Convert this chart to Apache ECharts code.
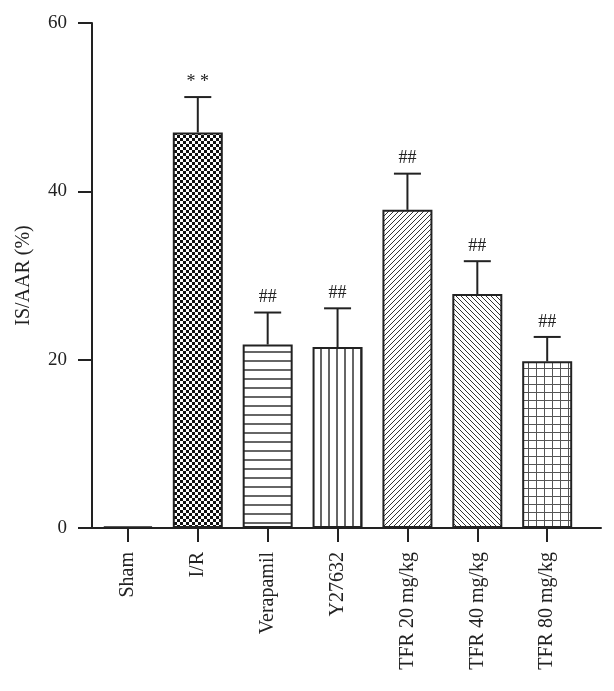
<!DOCTYPE html>
<html>
<head>
<meta charset="utf-8">
<script src="https://cdn.jsdelivr.net/npm/echarts@6/dist/echarts.min.js"></script>
<style>
  html, body { margin: 0; padding: 0; background: #fff; }
  #main { width: 614px; height: 691px; }
</style>
</head>
<body>
<div id="main"></div>
<script>
// groups and values (IS/AAR %)
var groups = ["Sham", "I/R", "Verapamil", "Y27632", "TFR 20 mg/kg", "TFR 40 mg/kg", "TFR 80 mg/kg"];
var means = [0.2, 47.0, 21.8, 21.5, 37.8, 27.8, 19.8];
var sds = [0, 4.2, 3.8, 4.6, 4.3, 3.9, 2.9];
var marks = ["", "* *", "##", "##", "##", "##", "##"];
var yTicks = [0, 20, 40, 60];

var FONT = "'Liberation Serif', 'DejaVu Serif', serif";
var INK = "#222";

// fill patterns drawn on small canvases
function pat(w, h, draw) {
  var c = document.createElement("canvas");
  c.width = w; c.height = h;
  var g = c.getContext("2d");
  g.fillStyle = "#fff";
  g.fillRect(0, 0, w, h);
  g.strokeStyle = "#333";
  g.fillStyle = "#111";
  draw(g);
  return { image: c, repeat: "repeat" };
}
var patterns = [
  "#fff",
  pat(6, 6, function (g) { g.fillRect(0, 0, 3, 3); g.fillRect(3, 3, 3, 3); }),
  pat(10, 9.5, function (g) { g.lineWidth = 1.5; g.beginPath(); g.moveTo(0, 1); g.lineTo(10, 1); g.stroke(); }),
  pat(8, 10, function (g) { g.lineWidth = 1.5; g.beginPath(); g.moveTo(1, 0); g.lineTo(1, 10); g.stroke(); }),
  pat(5, 5, function (g) {
    g.lineWidth = 1; g.beginPath();
    g.moveTo(-1, 6); g.lineTo(6, -1);
    g.moveTo(-1, 1); g.lineTo(1, -1);
    g.moveTo(4, 6); g.lineTo(6, 4);
    g.stroke();
  }),
  pat(5, 5, function (g) {
    g.lineWidth = 1; g.beginPath();
    g.moveTo(-1, -1); g.lineTo(6, 6);
    g.moveTo(4, -1); g.lineTo(6, 1);
    g.moveTo(-1, 4); g.lineTo(1, 6);
    g.stroke();
  }),
  pat(8.3, 8.5, function (g) {
    g.lineWidth = 1; g.strokeStyle = "#555"; g.beginPath();
    g.moveTo(0.5, 0); g.lineTo(0.5, 9);
    g.moveTo(0, 0.5); g.lineTo(9, 0.5);
    g.stroke();
  })
];

var idx = groups.map(function (_, i) { return i; });
var barData = means.map(function (m, i) {
  return { value: [i, m], itemStyle: { color: patterns[i] } };
});
var errData = means.map(function (m, i) { return [i, m, sds[i]]; });

var chart = echarts.init(document.getElementById("main"));
chart.setOption({
  animation: false,
  backgroundColor: "#fff",
  grid: { left: 92, right: 13, top: 23, bottom: 163 },
  xAxis: {
    type: "value",
    min: -0.514,
    max: 6.77,
    splitLine: { show: false },
    axisLine: { onZero: false, lineStyle: { color: INK, width: 2 } },
    axisTick: { customValues: idx, length: 14, lineStyle: { color: INK, width: 2 } },
    axisLabel: {
      customValues: idx,
      rotate: 90,
      margin: 24,
      fontFamily: FONT,
      fontSize: 20,
      color: INK,
      formatter: function (v) { return groups[Math.round(v)]; }
    }
  },
  yAxis: {
    type: "value",
    min: 0,
    max: 60,
    interval: 20,
    name: "IS/AAR (%)",
    nameLocation: "middle",
    nameRotate: 90,
    nameGap: 58,
    nameTextStyle: { fontFamily: FONT, fontSize: 20, color: INK },
    splitLine: { show: false },
    axisLine: { show: true, onZero: false, lineStyle: { color: INK, width: 2 } },
    axisTick: { show: true, length: 14, lineStyle: { color: INK, width: 2 } },
    axisLabel: {
      margin: 25,
      fontFamily: FONT,
      fontSize: 19,
      color: INK,
      customValues: yTicks
    }
  },
  series: [
    {
      type: "bar",
      barWidth: 50,
      data: barData,
      itemStyle: { borderColor: INK, borderWidth: 2 }
    },
    {
      type: "custom",
      data: errData,
      z: 5,
      renderItem: function (params, api) {
        var i = api.value(0), m = api.value(1), s = api.value(2);
        var base = api.coord([i, m]);
        var top = api.coord([i, m + s]);
        var children = [];
        if (s > 0) {
          children.push({
            type: "line",
            shape: { x1: base[0], y1: base[1], x2: top[0], y2: top[1] },
            style: { stroke: INK, lineWidth: 2 }
          });
          children.push({
            type: "line",
            shape: { x1: top[0] - 13.5, y1: top[1], x2: top[0] + 13.5, y2: top[1] },
            style: { stroke: INK, lineWidth: 2 }
          });
        }
        if (marks[params.dataIndex]) {
          children.push({
            type: "text",
            x: top[0],
            y: top[1] - 6,
            style: {
              text: marks[params.dataIndex],
              fontFamily: FONT,
              fontSize: 18,
              fill: INK,
              align: "center",
              verticalAlign: "bottom"
            }
          });
        }
        return { type: "group", children: children };
      }
    }
  ]
});
</script>
</body>
</html>
